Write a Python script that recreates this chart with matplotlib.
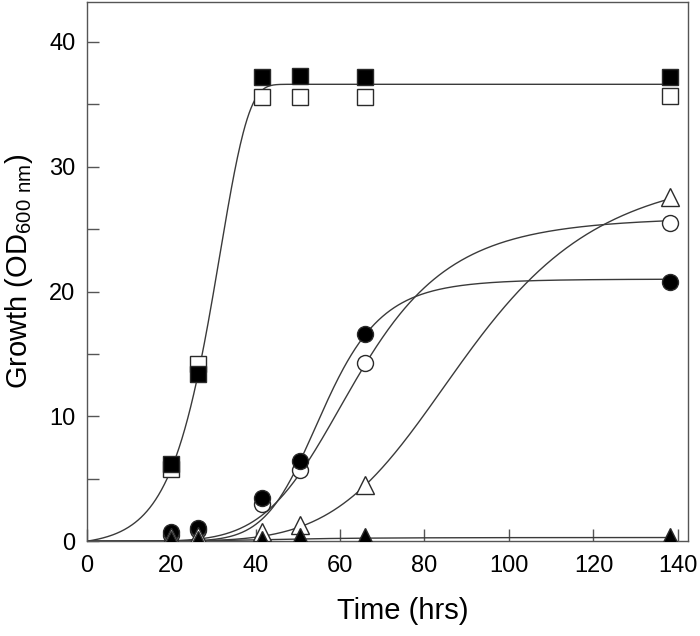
import numpy as np
import matplotlib
matplotlib.use("Agg")
import matplotlib.pyplot as plt

plt.rcParams["font.family"] = ["Liberation Sans", "DejaVu Sans"]
plt.rcParams["mathtext.fontset"] = "custom"
plt.rcParams["mathtext.rm"] = "Liberation Sans"

# ==================================================
# Measured data (read from the figure)
# ==================================================
time_h = [20.0, 26.5, 41.5, 50.5, 66.0, 138.0]

sq_filled = [6.2, 13.4, 37.2, 37.3, 37.2, 37.2]
sq_open = [5.8, 14.2, 35.6, 35.6, 35.6, 35.7]
circ_filled = [0.7, 1.1, 3.5, 6.4, 16.6, 20.8]
circ_open = [0.5, 0.9, 3.0, 5.7, 14.3, 25.5]
tri_open = [0.3, 0.4, 0.7, 1.3, 4.5, 27.6]
tri_filled = [0.1, 0.1, 0.1, 0.3, 0.3, 0.3]

# ==================================================
# Fitted curve parameters
# ==================================================
sq_fit = (36.6, 0.148, 31.6)          # A, k, x0 (asymmetric sigmoid)
circ_filled_fit = (21.0, 56.0, 8.0)   # A, K, n (Hill)
circ_open_fit = (26.0, 63.9, 5.67)
tri_open_fit = (30.0, 90.2, 5.56)
tri_filled_fit = (0.3, 45.0, 4.0)


def sigmoid_fast_top(x, A, k, x0):
    f = 1.0 - np.exp(-np.exp(k * (x - x0)))
    f0 = 1.0 - np.exp(-np.exp(-k * x0))
    return A * (f - f0) / (1.0 - f0)


def hill(x, A, K, n):
    return A * x**n / (K**n + x**n)


xs = np.linspace(0.0, 138.0, 600)

fig = plt.figure(figsize=(7.0, 6.36), dpi=100)
ax = fig.add_axes([0.1236, 0.149, 0.8594, 0.848])

line_kw = dict(color="#3a3a3a", linewidth=1.0, zorder=2)
ax.plot(xs, sigmoid_fast_top(xs, *sq_fit), **line_kw)
ax.plot(xs, hill(xs, *circ_filled_fit), **line_kw)
ax.plot(xs, hill(xs, *circ_open_fit), **line_kw)
ax.plot(xs, hill(xs, *tri_open_fit), **line_kw)
ax.plot(xs, hill(xs, *tri_filled_fit), **line_kw)

edge = "#2a2a2a"
ms = 11.5
ax.plot(time_h, sq_open, "s", ms=ms, mfc="white", mec=edge, mew=1.0, ls="none", zorder=3)
ax.plot(time_h, sq_filled, "s", ms=ms, mfc="black", mec=edge, mew=1.0, ls="none", zorder=4)
ax.plot(time_h, circ_open, "o", ms=ms, mfc="white", mec=edge, mew=1.0, ls="none", zorder=5)
ax.plot(time_h, circ_filled, "o", ms=ms, mfc="black", mec=edge, mew=1.0, ls="none", zorder=6)
ax.plot(time_h, tri_open, "^", ms=ms + 1, mfc="white", mec=edge, mew=1.0, ls="none", zorder=7)
ax.plot(time_h, tri_filled, "^", ms=ms + 1, mfc="black", mec=edge, mew=1.0, ls="none", zorder=8)

ax.set_xlim(0, 142.4)
ax.set_ylim(0, 43.2)
ax.set_xticks(np.arange(0, 141, 20))
ax.set_yticks(np.arange(0, 41, 10))
ax.set_yticks(np.arange(5, 41, 10), minor=True)
ax.tick_params(axis="both", which="both", direction="in", length=8.5, width=1.0,
               color="#555555", labelsize=17, top=False, right=False)
ax.tick_params(axis="x", pad=10)
ax.tick_params(axis="y", pad=8)

for s in ax.spines.values():
    s.set_color("#555555")
    s.set_linewidth(1.0)

ax.set_xlabel("Time (hrs)", fontsize=21, labelpad=14)
ax.xaxis.label.set_x(0.525)
ax.set_ylabel(r"Growth (OD$_{\mathregular{600\ nm}}$)", fontsize=21, labelpad=10)

fig.savefig("out.png", dpi=100)
